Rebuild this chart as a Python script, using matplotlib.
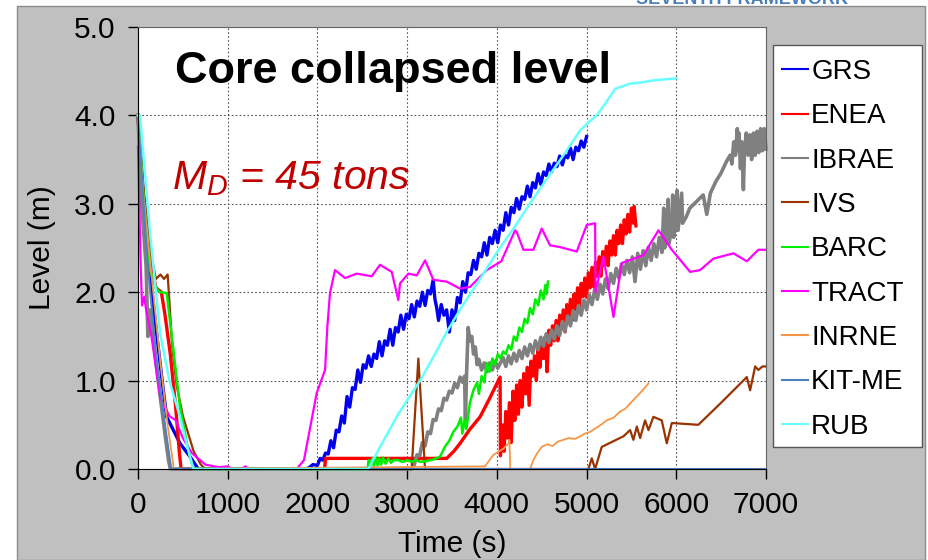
import matplotlib
matplotlib.use("Agg")
import matplotlib.pyplot as plt
from matplotlib.patches import Rectangle

plt.rcParams['font.family'] = ['Liberation Sans', 'DejaVu Sans']
plt.rcParams['mathtext.fontset'] = 'custom'
plt.rcParams['mathtext.rm'] = 'Liberation Sans'
plt.rcParams['mathtext.it'] = 'Liberation Sans:italic'

# ---- data (time in s, level in m) ----
grs_t = [0, 60, 134, 200, 282, 320, 394, 468, 580, 672, 1850, 1900, 1950, 2000, 2030, 2060, 2090, 2120, 2150, 2180,
         2210, 2240, 2270, 2300, 2330, 2360, 2390, 2420, 2450, 2480, 2510, 2540, 2570, 2600, 2630, 2660, 2690,
         2720, 2750, 2780, 2810, 2840, 2870, 2900, 2930, 2960, 2990, 3020, 3050, 3080, 3110, 3140, 3170, 3200,
         3230, 3260, 3290, 3310, 3330, 3350, 3380, 3410, 3440, 3470, 3500, 3530, 3560, 3590, 3620, 3650, 3680,
         3710, 3740, 3770, 3800, 3830, 3860, 3890, 3920, 3950, 3980, 4010, 4040, 4070, 4100, 4130, 4160, 4190,
         4220, 4250, 4280, 4310, 4340, 4370, 4400, 4430, 4460, 4490, 4520, 4550, 4580, 4610, 4640, 4670, 4700,
         4730, 4760, 4790, 4820, 4850, 4880, 4910, 4940, 4970, 5000]
grs_L = [4.0, 3.1, 2.2, 1.6, 0.89, 0.59, 0.44, 0.29, 0.14, 0.0, 0.0, 0.01, 0.05, 0.04, 0.12, 0.10, 0.18, 0.17, 0.32, 0.24,
         0.44, 0.42, 0.60, 0.52, 0.82, 0.70, 0.92, 0.90, 1.12, 0.98, 1.18, 1.14, 1.28, 1.16, 1.30, 1.25, 1.44,
         1.28, 1.45, 1.40, 1.58, 1.40, 1.60, 1.55, 1.74, 1.58, 1.75, 1.70, 1.86, 1.72, 1.90, 1.84, 2.00, 1.85,
         2.02, 1.98, 2.14, 1.92, 1.82, 1.68, 1.86, 1.74, 1.80, 1.55, 1.80, 1.68, 1.94, 1.88, 2.12, 2.00, 2.22,
         2.20, 2.36, 2.26, 2.44, 2.40, 2.56, 2.42, 2.62, 2.55, 2.70, 2.56, 2.76, 2.70, 2.90, 2.76, 2.96, 2.90,
         3.06, 2.94, 3.08, 3.05, 3.20, 3.08, 3.24, 3.18, 3.34, 3.22, 3.36, 3.32, 3.45, 3.36, 3.46, 3.42, 3.54,
         3.44, 3.55, 3.52, 3.63, 3.50, 3.64, 3.60, 3.71, 3.64, 3.76]

enea_t = [0, 60, 150, 200, 260, 300, 360, 420, 460, 480, 2080, 2090, 3300, 3441, 3520, 3590, 3700, 3813, 3920, 4036,
          4040, 4060, 4080, 4100, 4120, 4140, 4160, 4180, 4200, 4220, 4240, 4260, 4280, 4300, 4320, 4340, 4360,
          4380, 4400, 4420, 4440, 4460, 4480, 4500, 4520, 4540, 4560, 4580, 4600, 4620, 4640, 4660, 4680, 4700,
          4720, 4740, 4760, 4780, 4800, 4820, 4840, 4860, 4880, 4900, 4920, 4940, 4960, 4980, 5000, 5020, 5040,
          5060, 5080, 5100, 5120, 5140, 5160, 5180, 5200, 5220, 5240, 5260, 5280, 5300, 5320, 5340, 5360, 5380,
          5400, 5420, 5440, 5460, 5480, 5500, 5520, 5530, 5550]
enea_L = [4.0, 3.0, 2.3, 2.05, 2.0, 1.75, 1.3, 0.7, 0.2, 0.0, 0.0, 0.12, 0.12, 0.12, 0.2, 0.29, 0.45, 0.59, 0.8, 1.04,
          0.15, 0.50, 0.20, 0.65, 0.35, 0.75, 0.30, 0.88, 0.55, 0.95, 0.62, 1.00, 0.70, 1.08, 0.85, 1.15, 0.72,
          1.22, 1.05, 1.28, 1.00, 1.35, 1.15, 1.42, 1.25, 1.50, 1.10, 1.57, 1.40, 1.62, 1.45, 1.68, 1.45, 1.74,
          1.58, 1.80, 1.55, 1.86, 1.70, 1.92, 1.68, 1.98, 1.80, 2.05, 1.82, 2.10, 1.95, 2.16, 1.94, 2.22, 2.05,
          2.28, 2.06, 2.34, 2.18, 2.40, 2.18, 2.46, 2.30, 2.52, 2.30, 2.58, 2.42, 2.64, 2.42, 2.70, 2.55, 2.76,
          2.55, 2.82, 2.66, 2.88, 2.68, 2.95, 2.78, 2.97, 2.75]

ibrae_t = [0, 40, 90, 110, 130, 160, 200, 250, 300, 340, 360, 3050, 3080, 3110, 3140, 3170, 3200, 3230, 3260, 3290,
           3320, 3350, 3380, 3410, 3440, 3470, 3500, 3530, 3560, 3590, 3620, 3640, 3650, 3660, 3680, 3700, 3720,
           3740, 3760, 3780, 3800, 3830, 3860, 3890, 3920, 3950, 3980, 4010, 4040, 4070, 4100, 4130, 4160, 4190,
           4220, 4250, 4280, 4310, 4340, 4370, 4400, 4430, 4460, 4490, 4520, 4550, 4580, 4610, 4640, 4670, 4700,
           4730, 4760, 4790, 4820, 4850, 4880, 4910, 4940, 4970, 5000, 5030, 5060, 5090, 5120, 5150, 5180, 5210,
           5240, 5270, 5300, 5330, 5360, 5390, 5420, 5450, 5480, 5510, 5540, 5570, 5600, 5630, 5660, 5690, 5720,
           5750, 5780, 5810, 5840, 5860, 5870, 5900, 5910, 5920, 5950, 5960, 5970, 6000, 6010, 6020, 6060, 6070,
           6110, 6150, 6200, 6250, 6300, 6340, 6380, 6440, 6500, 6560, 6600, 6620, 6640, 6660, 6680, 6690, 6700,
           6715, 6730, 6748, 6760, 6780, 6800, 6820, 6840, 6860, 6880, 6900, 6920, 6940, 6960, 6980, 7000]
ibrae_L = [4.0, 3.0, 2.3, 1.5, 1.8, 1.6, 1.2, 0.8, 0.4, 0.1, 0.0, 0.0, 0.05, 0.16, 0.15, 0.30, 0.26, 0.42, 0.40, 0.56,
           0.55, 0.68, 0.66, 0.80, 0.78, 0.88, 0.86, 0.97, 0.92, 1.04, 0.98, 1.05, 0.55, 1.00, 1.60, 1.45, 1.50,
           1.30, 1.38, 1.18, 1.24, 1.12, 1.20, 1.10, 1.20, 1.12, 1.22, 1.14, 1.20, 1.26, 1.16, 1.28, 1.19, 1.31,
           1.22, 1.34, 1.25, 1.38, 1.28, 1.41, 1.31, 1.45, 1.35, 1.49, 1.39, 1.53, 1.43, 1.57, 1.47, 1.62, 1.51,
           1.67, 1.56, 1.73, 1.62, 1.79, 1.68, 1.85, 1.74, 1.91, 1.80, 1.97, 1.86, 2.03, 1.92, 2.09, 1.98, 2.15,
           2.04, 2.21, 2.10, 2.27, 2.16, 2.32, 2.20, 2.36, 2.22, 2.40, 2.12, 2.44, 2.26, 2.47, 2.30, 2.51, 2.36,
           2.55, 2.40, 2.62, 2.45, 2.95, 2.50, 2.70, 3.05, 2.55, 2.75, 3.10, 2.62, 2.80, 3.15, 2.70, 3.12, 2.78,
           2.85, 2.95, 3.00, 3.05, 3.10, 2.88, 3.12, 3.25, 3.35, 3.48, 3.55, 3.45, 3.70, 3.55, 3.85, 3.60, 3.80,
           3.40, 3.70, 3.16, 3.60, 3.80, 3.55, 3.78, 3.50, 3.80, 3.55, 3.82, 3.58, 3.85, 3.60, 3.85, 3.62]

ivs_t = [0, 60, 150, 200, 250, 290, 330, 350, 380, 430, 500, 560, 620, 700, 750, 3050, 3125, 3199, 5020, 5058, 5095,
         5169, 5411, 5485, 5522, 5560, 5597, 5652, 5690, 5745, 5838, 5894, 5950, 6246, 6500, 6786, 6823, 6879,
         6915, 6960, 7000]
ivs_L = [4.0, 3.2, 2.4, 2.15, 2.2, 2.15, 2.2, 1.9, 1.4, 0.95, 0.6, 0.4, 0.2, 0.05, 0.0, 0.0, 1.25, 0.0, 0.0, 0.12, 0.0,
         0.25, 0.37, 0.44, 0.33, 0.48, 0.35, 0.55, 0.44, 0.59, 0.55, 0.29, 0.52, 0.50, 0.75, 1.04, 0.89, 1.16,
         1.12, 1.16, 1.16]

barc_t = [0, 60, 134, 200, 245, 320, 394, 468, 561, 617, 2560, 2570, 2590, 2610, 2630, 2650, 2670, 2690, 2710,
          2730, 2760, 2790, 2820, 2850, 2900, 2950, 3000, 3050, 3100, 3150, 3218, 3300, 3367, 3420, 3470, 3515,
          3560, 3600, 3615, 3640, 3660, 3700, 3738, 3780, 3800, 3830, 3860, 3887, 3920, 3950, 3980, 4010, 4040,
          4070, 4100, 4130, 4160, 4190, 4220, 4250, 4280, 4310, 4340, 4370, 4400, 4430, 4460, 4490, 4520, 4540,
          4555, 4570]
barc_L = [4.0, 3.1, 2.25, 2.05, 2.0, 1.99, 1.35, 0.7, 0.21, 0.0, 0.0, 0.10, 0.02, 0.12, 0.03, 0.14, 0.04, 0.12, 0.05,
          0.13, 0.06, 0.12, 0.07, 0.10, 0.10, 0.08, 0.10, 0.08, 0.10, 0.08, 0.09, 0.11, 0.14, 0.25, 0.32, 0.42,
          0.48, 0.58, 0.40, 0.55, 0.45, 0.75, 0.89, 0.98, 0.85, 1.05, 0.98, 1.20, 1.10, 1.25, 1.18, 1.30, 1.25,
          1.33, 1.30, 1.40, 1.35, 1.50, 1.45, 1.60, 1.55, 1.70, 1.65, 1.82, 1.75, 1.92, 1.85, 2.02, 1.92, 2.08,
          1.98, 2.12]

tract_t = [0, 30, 45, 70, 90, 150, 250, 350, 420, 500, 600, 750, 900, 1000, 1050, 1150, 1200, 1230, 1769, 1850,
           1992, 2085, 2110, 2140, 2196, 2308, 2438, 2605, 2698, 2828, 2902, 2921, 3014, 3107, 3200, 3292, 3441,
           3590, 3701, 3887, 4050, 4203, 4222, 4296, 4407, 4500, 4593, 4705, 4891, 5002, 5095, 5100, 5188, 5300,
           5392, 5634, 5801, 5950, 6154, 6265, 6414, 6637, 6786, 6915, 7000]
tract_L = [3.65, 2.3, 1.85, 1.95, 1.8, 1.5, 0.8, 0.6, 0.55, 0.35, 0.18, 0.05, 0.02, 0.03, 0.0, 0.0, 0.03, 0.0, 0.0, 0.1,
           0.86, 1.12, 1.6, 1.99, 2.25, 2.16, 2.21, 2.18, 2.31, 2.23, 1.91, 2.10, 2.21, 2.19, 2.36, 2.14, 2.12,
           2.04, 2.06, 2.25, 2.35, 2.70, 2.68, 2.48, 2.48, 2.72, 2.53, 2.51, 2.46, 2.76, 2.78, 2.00, 2.40, 1.72,
           2.33, 2.42, 2.70, 2.48, 2.23, 2.25, 2.38, 2.44, 2.35, 2.48, 2.48]

inrne_t = [0, 60, 150, 250, 330, 400, 3868, 3961, 4073, 4129, 4140, 4150, 4370, 4407, 4450, 4500, 4560, 4620, 4680,
           4742, 4800, 4870, 4928, 4980, 5039, 5100, 5160, 5225, 5300, 5374, 5430, 5485, 5540, 5597, 5650, 5690]
inrne_L = [4.0, 3.1, 2.2, 1.2, 0.5, 0.0, 0.03, 0.16, 0.23, 0.29, 0.33, 0.0, 0.0, 0.10, 0.18, 0.25, 0.28, 0.26, 0.31,
           0.33, 0.35, 0.34, 0.37, 0.40, 0.42, 0.46, 0.50, 0.55, 0.58, 0.65, 0.68, 0.74, 0.80, 0.86, 0.92, 0.97]

kit_t = [0, 50, 100, 200, 300, 370, 7000]
kit_L = [4.0, 3.2, 2.4, 1.3, 0.5, 0.0, 0.0]

rub_t = [0, 22, 134, 245, 350, 468, 561, 617, 2568, 2698, 2900, 3144, 3300, 3441, 3600, 3813, 4000, 4185, 4400,
         4556, 4750, 4928, 5020, 5113, 5200, 5318, 5400, 5485, 5600, 5700, 5783, 5900, 6005]
rub_L = [4.0, 4.0, 2.67, 1.54, 1.0, 0.59, 0.21, 0.0, 0.0, 0.25, 0.62, 1.0, 1.28, 1.55, 1.82, 2.15, 2.45, 2.72, 3.05,
         3.28, 3.56, 3.83, 3.92, 4.0, 4.12, 4.30, 4.33, 4.36, 4.37, 4.39, 4.40, 4.41, 4.42]

series = [
    ("GRS", grs_t, grs_L, "#0000ee", 2.4),
    ("ENEA", enea_t, enea_L, "#ff0000", 2.4),
    ("IBRAE", ibrae_t, ibrae_L, "#808080", 2.6),
    ("IVS", ivs_t, ivs_L, "#993300", 1.6),
    ("BARC", barc_t, barc_L, "#00ee00", 1.8),
    ("TRACT", tract_t, tract_L, "#ff00ff", 1.6),
    ("INRNE", inrne_t, inrne_L, "#f79646", 1.3),
    ("KIT-ME", kit_t, kit_L, "#4f81bd", 1.5),
    ("RUB", rub_t, rub_L, "#66ffff", 1.8),
]

W, H = 929, 560
fig = plt.figure(figsize=(W / 100, H / 100), dpi=100)
fig.patch.set_facecolor("white")

# faint page header peeking above the grey panel
fig.text(742 / W, 1 - 4 / H, "SEVENTH FRAMEWORK", color="#4a7ebb", fontsize=13, fontweight="bold",
         ha="center", va="baseline", zorder=-3)
fig.patches.append(Rectangle((17 / W, 0), (925 - 17) / W, (H - 6) / H, transform=fig.transFigure,
                             facecolor="#c0c0c0", edgecolor="#8c8c8c", lw=1, zorder=-2))

ax = fig.add_axes([138 / W, 1 - 469 / H, (766 - 138) / W, (469 - 27) / H])
ax.set_facecolor("white")

for name, t, L, c, lw in series:
    ax.plot(t, L, color=c, lw=lw, label=name, clip_on=False)

ax.set_xlim(0, 7000)
ax.set_ylim(0, 5)
ax.set_xticks(range(0, 7001, 1000))
ax.set_yticks([0, 1, 2, 3, 4, 5])
ax.set_yticklabels(["0.0", "1.0", "2.0", "3.0", "4.0", "5.0"])
ax.tick_params(direction="out", length=7, width=1, labelsize=21.5, pad=9)
ax.grid(True, color="#555555", linestyle=(0, (1.5, 2)), lw=0.8)
for s in ["top", "right"]:
    ax.spines[s].set_color("#666666")
ax.spines["left"].set_color("black")
ax.spines["bottom"].set_color("black")

ax.set_xlabel("Time (s)", fontsize=21.5, labelpad=8)
ax.set_ylabel("Level (m)", fontsize=21.5, labelpad=13)

ax.text(412, 4.37, "Core collapsed level", fontsize=32.5, fontweight="bold", va="baseline")
ax.text(379, 3.16, r"$M_D$ = 45 tons", fontsize=29.5, style="italic", color="#c00000", va="baseline")

# legend with a drawn frame
fig.patches.append(Rectangle((773 / W, 1 - 447 / H), (922 - 773) / W, (447 - 45) / H,
                             transform=fig.transFigure, facecolor="white", edgecolor="#555555", lw=1, zorder=4))
leg = fig.legend(loc="upper left", bbox_to_anchor=(782 / W, 1 - 59 / H), frameon=False, fontsize=20,
                 borderpad=0, borderaxespad=0, handlelength=0.95, handletextpad=0.1, labelspacing=0.66)
leg.set_zorder(5)
for h in leg.get_lines():
    h.set_linewidth(1.5)

fig.savefig("out.png", dpi=100)
